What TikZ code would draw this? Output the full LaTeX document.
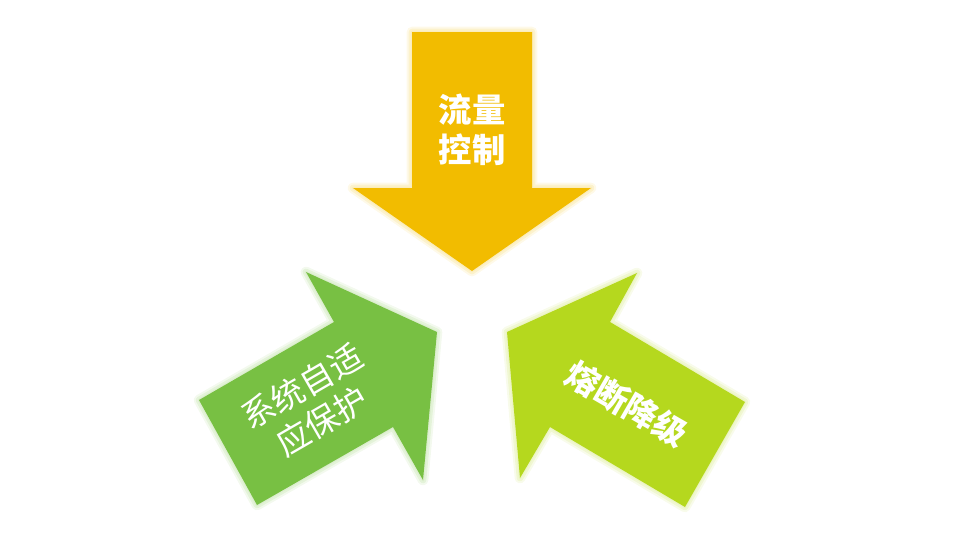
\documentclass[tikz,border=0pt]{standalone}
\usepackage{fontspec}
\newfontfamily\cjk{Noto Sans CJK SC}
\usetikzlibrary{calc}
\definecolor{cyellow}{HTML}{F2BC00}
\definecolor{cgreen}{HTML}{78C043}
\definecolor{clime}{HTML}{B5D81E}
\tikzset{
  glowA/.style={draw=#1!45, line width=8pt, opacity=0.2, line join=round},
  glowB/.style={draw=#1!45, line width=5pt, opacity=0.3, line join=round},
  glowC/.style={draw=#1!30, line width=2pt, opacity=0.6, line join=round},
  arrowfill/.style={fill=#1, draw=none},
  lbl/.style={text=white, font=\cjk\fontsize{25}{30}\selectfont, align=center, inner sep=0pt},
  lblb/.style={lbl, font=\cjk\bfseries\fontsize{25}{30}\selectfont},
}
\begin{document}
\begin{tikzpicture}[x=0.75pt,y=-0.75pt]
\useasboundingbox (0,0) rectangle (967,533);
% top arrow
\def\shapetop{(412,32) -- (532,32) -- (532,188) -- (591,188) -- (472,271) -- (353,188) -- (412,188) -- cycle}
\path[glowA=cyellow] \shapetop;
\path[glowB=cyellow] \shapetop;
\path[glowC=cyellow] \shapetop;
\path[arrowfill=cyellow] \shapetop;
% left arrow
\def\shapeleft{(437,332) -- (306,272) -- (334,322) -- (199,400) -- (257,505) -- (393,427) -- (423,480) -- cycle}
\path[glowA=cgreen] \shapeleft;
\path[glowB=cgreen] \shapeleft;
\path[glowC=cgreen] \shapeleft;
\path[arrowfill=cgreen] \shapeleft;
% right arrow
\def\shaperight{(507,332) -- (637,273) -- (610,322) -- (745,402) -- (685,507) -- (550,427) -- (520,478) -- cycle}
\path[glowA=clime] \shaperight;
\path[glowB=clime] \shaperight;
\path[glowC=clime] \shaperight;
\path[arrowfill=clime] \shaperight;
% labels
\node[lblb] (t1) at (472,130) {流量\\控制};
\node[lbl, rotate=30] (t2) at (312,404) {系统自适\\应保护};
\node[lblb, rotate=-30] (t3) at (627,404) {熔断降级};
\end{tikzpicture}
\end{document}
